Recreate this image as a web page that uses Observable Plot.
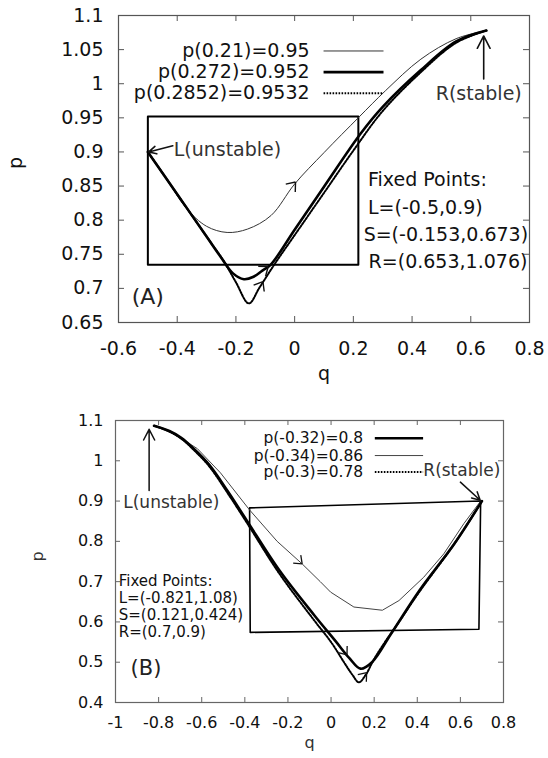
<!DOCTYPE html>
<html><head><meta charset="utf-8">
<script src="https://cdn.jsdelivr.net/npm/d3@7"></script>
<script src="https://cdn.jsdelivr.net/npm/@observablehq/plot@0.6"></script>
<style>
body{margin:0;background:#fff}
#chart svg{display:block}
</style>
</head><body><div id="chart"></div>
<script>
// ---------------- Panel A data ----------------
const aXTicks = [-0.6,-0.4,-0.2,0,0.2,0.4,0.6,0.8];
const aYTicks = [0.65,0.7,0.75,0.8,0.85,0.9,0.95,1,1.05,1.1];
const aThinQ  = [-0.5,-0.44,-0.37,-0.3,-0.23,-0.16,-0.08,0.0,0.1,0.219,0.31,0.43,0.55,0.653];
const aThinP  = [0.9,0.863,0.818,0.791,0.782,0.787,0.807,0.853,0.899,0.951,0.99,1.036,1.066,1.078];
const aThickQ = [-0.5,-0.4,-0.3,-0.25,-0.21,-0.173,-0.14,-0.11,-0.082,0.0,0.1,0.225,0.3,0.43,0.55,0.653];
const aThickP = [0.9,0.838,0.776,0.745,0.722,0.7135,0.717,0.726,0.7345,0.786,0.849,0.927,0.966,1.02,1.062,1.078];
const aDotQ   = [-0.5,-0.4,-0.3,-0.24,-0.2,-0.156,-0.12,-0.07,0.0,0.1,0.2,0.3,0.43,0.55,0.653];
const aDotP   = [0.9,0.838,0.776,0.739,0.709,0.678,0.701,0.7345,0.778,0.84,0.902,0.96,1.017,1.06,1.078];
const aRectQ  = [-0.5,0.217,0.217,-0.5,-0.5];
const aRectP  = [0.952,0.952,0.7345,0.7345,0.952];
const aLegend = ["p(0.21)=0.95","p(0.272)=0.952","p(0.2852)=0.9532"];
const aFixed  = ["Fixed Points:","L=(-0.5,0.9)","S=(-0.153,0.673)","R=(0.653,1.076)"];

// ---------------- Panel B data ----------------
const bXTicks = [-1,-0.8,-0.6,-0.4,-0.2,0,0.2,0.4,0.6,0.8];
const bYTicks = [0.4,0.5,0.6,0.7,0.8,0.9,1,1.1];
const bThickQ = [-0.821,-0.75,-0.695,-0.637,-0.565,-0.48,-0.389,-0.24,-0.077,0.02,0.085,0.137,0.19,0.28,0.41,0.572,0.7];
const bThickP = [1.087,1.074,1.057,1.03,0.99,0.925,0.85,0.728,0.616,0.553,0.51,0.484,0.5,0.572,0.678,0.794,0.9];
const bThinQ  = [-0.821,-0.72,-0.62,-0.513,-0.378,-0.25,-0.134,-0.05,-0.002,0.106,0.238,0.315,0.43,0.523,0.616,0.694];
const bThinP  = [1.087,1.064,1.03,0.97,0.878,0.8,0.744,0.7,0.674,0.637,0.629,0.653,0.711,0.769,0.844,0.9];
const bDotQ   = [-0.821,-0.75,-0.695,-0.637,-0.565,-0.48,-0.389,-0.24,-0.077,0.0,0.06,0.1,0.129,0.16,0.2,0.25,0.3,0.41,0.572,0.7];
const bDotP   = [1.087,1.073,1.055,1.027,0.986,0.92,0.845,0.72,0.603,0.55,0.5,0.468,0.45,0.468,0.508,0.55,0.588,0.675,0.794,0.9];
const bRectQ  = [-0.378,0.694,0.686,-0.375,-0.378];
const bRectP  = [0.883,0.9,0.582,0.574,0.883];
const bLegend = ["p(-0.32)=0.8","p(-0.34)=0.86","p(-0.3)=0.78"];
const bFixed  = ["Fixed Points:","L=(-0.821,1.08)","S=(0.121,0.424)","R=(0.7,0.9)"];

// ---------------- helpers ----------------
const zip = (qs, ps) => qs.map((q, i) => ({q, p: ps[i]}));
const FONT = "DejaVu Sans";

function inwardTicks(xT, yT, xd, yd, fw, fh, len, stroke) {
  const ddy = (yd[1] - yd[0]) * len / fh;
  const ddx = (xd[1] - xd[0]) * len / fw;
  return [
    Plot.ruleX(xT, {x: d => d, y1: yd[0], y2: yd[0] + ddy, stroke}),
    Plot.ruleX(xT, {x: d => d, y1: yd[1], y2: yd[1] - ddy, stroke}),
    Plot.ruleY(yT, {y: d => d, x1: xd[0], x2: xd[0] + ddx, stroke}),
    Plot.ruleY(yT, {y: d => d, x1: xd[1], x2: xd[1] - ddx, stroke})
  ];
}
// open arrowhead wings at the tip (x2,y2), pointing along (x1,y1)->(x2,y2)
function wings(arr, kx, ky, len, halfDeg) {
  const out = [];
  const a = halfDeg * Math.PI / 180;
  for (const d of arr) {
    const dxp = (d.x2 - d.x1) * kx, dyp = -(d.y2 - d.y1) * ky;
    const L = Math.hypot(dxp, dyp), ux = dxp / L, uy = dyp / L;
    for (const s of [-1, 1]) {
      const an = s * a;
      const rx = -ux * Math.cos(an) + uy * Math.sin(an);
      const ry = -ux * Math.sin(an) - uy * Math.cos(an);
      out.push({x1: d.x2, y1: d.y2, x2: d.x2 + len * rx / kx, y2: d.y2 - len * ry / ky});
    }
  }
  return out;
}

// ---------------- Panel A ----------------
const A = {W: 548, H: 390, ml: 118, mr: 19, mt: 15, mb: 68, xd: [-0.6, 0.8], yd: [0.65, 1.1]};
const aKx = (A.W - A.ml - A.mr) / (A.xd[1] - A.xd[0]);
const aKy = (A.H - A.mt - A.mb) / (A.yd[1] - A.yd[0]);
const aLegX = 0.051, aLegY = [1.048, 1.017, 0.986], aLineX = [0.0985, 0.3027];
const aFixX = [0.25, 0.25, 0.235, 0.252], aFixY = [0.859, 0.8175, 0.7785, 0.7395];
const aStyles = [
  {strokeWidth: 1, stroke: "#333"},
  {strokeWidth: 2.6, stroke: "#000"},
  {strokeWidth: 2, stroke: "#000", strokeDasharray: "1.6,1.4"}
];
const aBigArrows = [
  {x1: -0.415, y1: 0.909, x2: -0.497, y2: 0.9},
  {x1: 0.644, y1: 1.007, x2: 0.644, y2: 1.07}
];
const aSmallArrows = [
  {x1: -0.02, y1: 0.844, x2: 0.003, y2: 0.856},
  {x1: -0.115, y1: 0.724, x2: -0.09, y2: 0.732},
  {x1: -0.13, y1: 0.694, x2: -0.108, y2: 0.71}
];

const plotA = Plot.plot({
  width: A.W, height: A.H,
  marginLeft: A.ml, marginRight: A.mr, marginTop: A.mt, marginBottom: A.mb,
  x: {domain: A.xd}, y: {domain: A.yd},
  style: {fontFamily: FONT, fontSize: "19px", color: "#111", background: "#fff"},
  marks: [
    Plot.frame({stroke: "#555", strokeWidth: 1.2}),
    ...inwardTicks(aXTicks, aYTicks, A.xd, A.yd, A.W - A.ml - A.mr, A.H - A.mt - A.mb, 6, "#555"),
    Plot.axisX(aXTicks, {tickSize: 0, tickPadding: 19, tickFormat: d => String(d), label: null, fontSize: 19, fill: "#111"}),
    Plot.axisY(aYTicks, {tickSize: 0, tickPadding: 15, tickFormat: d => String(d), label: null, fontSize: 19, fill: "#111"}),
    Plot.text(["p"], {frameAnchor: "left", dx: -103, rotate: -90, fontSize: 19, fill: "#111"}),
    Plot.text(["q"], {frameAnchor: "bottom", dy: 57, fontSize: 19, fill: "#111"}),
    Plot.line(zip(aRectQ, aRectP), {x: "q", y: "p", stroke: "#000", strokeWidth: 2}),
    Plot.line(zip(aThinQ, aThinP), {x: "q", y: "p", curve: "catmull-rom", ...aStyles[0]}),
    Plot.line(zip(aThickQ, aThickP), {x: "q", y: "p", curve: "catmull-rom", ...aStyles[1]}),
    Plot.line(zip(aDotQ, aDotP), {x: "q", y: "p", curve: "catmull-rom", ...aStyles[2]}),
    Plot.arrow(aBigArrows, {x1: "x1", y1: "y1", x2: "x2", y2: "y2", stroke: "#111", strokeWidth: 1.6, headLength: 13, headAngle: 55}),
    Plot.link(wings(aSmallArrows, aKx, aKy, 10, 38), {x1: "x1", y1: "y1", x2: "x2", y2: "y2", stroke: "#111", strokeWidth: 1.4}),
    ...aLegend.map((t, i) => Plot.link([0], {x1: aLineX[0], x2: aLineX[1], y1: aLegY[i], y2: aLegY[i], ...aStyles[i]})),
    Plot.text(aLegend, {x: () => aLegX, y: (d, i) => aLegY[i], text: d => d, textAnchor: "end", fontSize: 19, fill: "#111"}),
    Plot.text(aFixed, {x: (d, i) => aFixX[i], y: (d, i) => aFixY[i], text: d => d, textAnchor: "start", fontSize: 19, fill: "#111"}),
    Plot.text(["L(unstable)"], {x: -0.412, y: 0.9027, textAnchor: "start", fontSize: 19, fill: "#333"}),
    Plot.text(["R(stable)"], {x: 0.627, y: 0.9855, textAnchor: "middle", fontSize: 19, fill: "#333"}),
    Plot.text(["(A)"], {x: -0.555, y: 0.688, textAnchor: "start", fontSize: 22, fill: "#222"})
  ]
});

// ---------------- Panel B ----------------
const B = {W: 548, H: 368, ml: 115, mr: 45, mt: 30, mb: 56, xd: [-1, 0.8], yd: [0.4, 1.1]};
const bKx = (B.W - B.ml - B.mr) / (B.xd[1] - B.xd[0]);
const bKy = (B.H - B.mt - B.mb) / (B.yd[1] - B.yd[0]);
const bLegX = 0.149, bLegY = [1.056, 1.013, 0.972], bLineX = [0.203, 0.427];
const bFixX = -0.985, bFixY = [0.701, 0.659, 0.617, 0.575];
const bStyles = [
  {strokeWidth: 2.6, stroke: "#000"},
  {strokeWidth: 1, stroke: "#444"},
  {strokeWidth: 2, stroke: "#000", strokeDasharray: "1.6,1.4"}
];
const bBigArrows = [
  {x1: -0.844, y1: 0.926, x2: -0.844, y2: 1.078},
  {x1: 0.6, y1: 0.947, x2: 0.692, y2: 0.902}
];
const bSmallArrows = [
  {x1: -0.16, y1: 0.757, x2: -0.134, y2: 0.744},
  {x1: 0.05, y1: 0.535, x2: 0.074, y2: 0.518},
  {x1: 0.14, y1: 0.458, x2: 0.165, y2: 0.474}
];

const plotB = Plot.plot({
  width: B.W, height: B.H,
  marginLeft: B.ml, marginRight: B.mr, marginTop: B.mt, marginBottom: B.mb,
  x: {domain: B.xd}, y: {domain: B.yd},
  style: {fontFamily: FONT, fontSize: "16px", color: "#111", background: "#fff"},
  marks: [
    Plot.frame({stroke: "#666", strokeWidth: 1.2}),
    ...inwardTicks(bXTicks, bYTicks, B.xd, B.yd, B.W - B.ml - B.mr, B.H - B.mt - B.mb, 5, "#666"),
    Plot.axisX(bXTicks, {tickSize: 0, tickPadding: 14, tickFormat: d => String(d), label: null, fontSize: 16, fill: "#111"}),
    Plot.axisY(bYTicks, {tickSize: 0, tickPadding: 12, tickFormat: d => String(d), label: null, fontSize: 16, fill: "#111"}),
    Plot.text(["p"], {frameAnchor: "left", dx: -78, rotate: -90, fontSize: 16, fill: "#333"}),
    Plot.text(["q"], {frameAnchor: "bottom", dy: 45, fontSize: 16, fill: "#333"}),
    Plot.line(zip(bRectQ, bRectP), {x: "q", y: "p", stroke: "#000", strokeWidth: 1.6}),
    Plot.line(zip(bThinQ, bThinP), {x: "q", y: "p", curve: "linear", ...bStyles[1]}),
    Plot.line(zip(bDotQ, bDotP), {x: "q", y: "p", curve: "catmull-rom", ...bStyles[2]}),
    Plot.line(zip(bThickQ, bThickP), {x: "q", y: "p", curve: "catmull-rom", ...bStyles[0]}),
    Plot.arrow(bBigArrows, {x1: "x1", y1: "y1", x2: "x2", y2: "y2", stroke: "#111", strokeWidth: 1.5, headLength: 12, headAngle: 55}),
    Plot.link(wings(bSmallArrows, bKx, bKy, 9, 38), {x1: "x1", y1: "y1", x2: "x2", y2: "y2", stroke: "#111", strokeWidth: 1.3}),
    ...bLegend.map((t, i) => Plot.link([0], {x1: bLineX[0], x2: bLineX[1], y1: bLegY[i], y2: bLegY[i], ...bStyles[i]})),
    Plot.text(bLegend, {x: () => bLegX, y: (d, i) => bLegY[i], text: d => d, textAnchor: "end", fontSize: 15.5, fill: "#111"}),
    Plot.text(bFixed, {x: () => bFixX, y: (d, i) => bFixY[i], text: d => d, textAnchor: "start", fontSize: 15, fill: "#111"}),
    Plot.text(["L(unstable)"], {x: -0.964, y: 0.897, textAnchor: "start", fontSize: 17, fill: "#333"}),
    Plot.text(["R(stable)"], {x: 0.428, y: 0.975, textAnchor: "start", fontSize: 17, fill: "#333"}),
    Plot.text(["(B)"], {x: -0.93, y: 0.485, textAnchor: "start", fontSize: 21, fill: "#222"})
  ]
});

const root = document.getElementById("chart");
root.appendChild(plotA);
root.appendChild(plotB);
</script>
</body></html>
